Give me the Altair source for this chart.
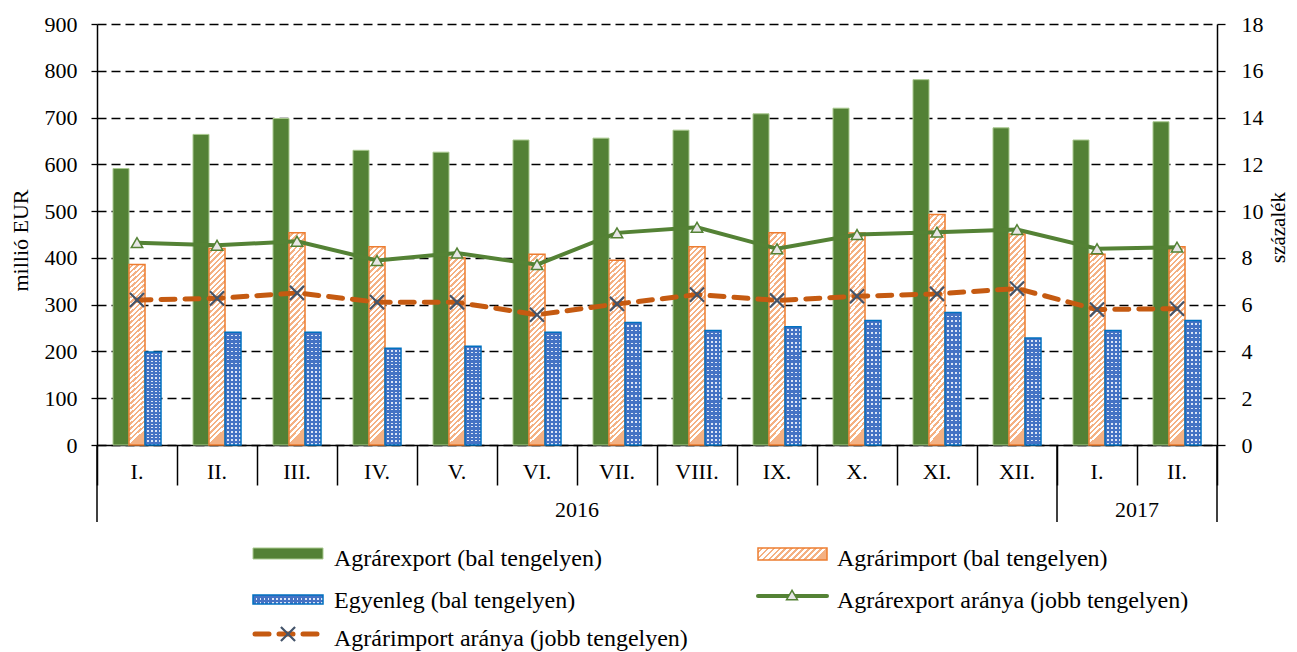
import altair as alt
import pandas as pd

# ---------------- data ----------------
months = ["I.", "II.", "III.", "IV.", "V.", "VI.", "VII.", "VIII.", "IX.", "X.", "XI.", "XII.", "I.", "II."]
years = ["2016"] * 12 + ["2017"] * 2
export_vals = [591, 664, 698, 630, 626, 652, 656, 673, 708, 720, 781, 678, 652, 691]
import_vals = [386, 420, 454, 424, 401, 408, 395, 424, 454, 453, 493, 451, 408, 424]
balance_vals = [199, 241, 241, 207, 211, 241, 262, 245, 253, 266, 283, 229, 245, 266]
export_share = [8.65, 8.54, 8.71, 7.89, 8.21, 7.71, 9.07, 9.31, 8.39, 9.00, 9.10, 9.21, 8.39, 8.46]
import_share = [6.20, 6.27, 6.50, 6.11, 6.10, 5.57, 6.03, 6.43, 6.18, 6.36, 6.46, 6.69, 5.79, 5.83]

series_names = {
    "exp": "Agrárexport (bal tengelyen)",
    "imp": "Agrárimport (bal tengelyen)",
    "bal": "Egyenleg (bal tengelyen)",
    "exps": "Agrárexport aránya (jobb tengelyen)",
    "imps": "Agrárimport aránya (jobb tengelyen)",
}

keys = [f"{y}-{m}" for y, m in zip(years, months)]
FONT = "Liberation Serif"

GREEN = "#538135"
GREEN_EDGE = "#A9C98F"
ORANGE_EDGE = "#ED7D31"
ORANGE_HATCH = "#F4B183"
BLUE = "#4472C4"
BLUE_EDGE = "#0070C0"
DOT_BG = "#DCE5F6"
LINE_GREEN = "#548235"
LINE_ORANGE = "#C55A11"
XMARK = "#44546A"

wide = pd.DataFrame({"key": keys, "month": months, "year": years,
                     "exp_share": export_share, "imp_share": import_share})
long = pd.DataFrame({
    "key": keys * 3,
    "series": ["exp"] * 14 + ["imp"] * 14 + ["bal"] * 14,
    "value": export_vals + import_vals + balance_vals,
})
one = pd.DataFrame({"a": [0]})


def stripes(n, x2, y2, c1, c2, frac):
    stops = []
    for i in range(n):
        a = i / n
        b = (i + frac) / n
        c = (i + 1) / n
        stops += [{"offset": a, "color": c1}, {"offset": b, "color": c1},
                  {"offset": b, "color": c2}, {"offset": c, "color": c2}]
    return {"gradient": "linear", "x1": 0, "y1": 0, "x2": x2, "y2": y2, "stops": stops}


CLEAR = "rgba(68,114,196,0)"
hatch_bar = stripes(36, 0.08, 1, "#FFFFFF", ORANGE_HATCH, 0.55)
rows_bar = stripes(28, 0, 1, BLUE, CLEAR, 0.62)
cols_bar = stripes(4, 1, 0, BLUE, CLEAR, 0.62)
hatch_leg = stripes(12, 1, 0.174, "#FFFFFF", ORANGE_HATCH, 0.55)
rows_leg = stripes(2, 0, 1, BLUE, CLEAR, 0.62)
cols_leg = stripes(17, 1, 0, BLUE, CLEAR, 0.62)

# ---------------- scales / axes ----------------
xscale = alt.Scale(domain=keys, paddingInner=0, paddingOuter=0)
xaxis = alt.Axis(labels=False, title=None, grid=False, tickBand="extent", tickSize=40,
                 tickColor="black", tickWidth=1.5, domainColor="black", domainWidth=1.5)


def X(**kw):
    return alt.X("key:N", scale=xscale, axis=xaxis, title=None, **kw)


xoff = alt.XOffset("series:N", scale=alt.Scale(domain=["exp", "imp", "bal"], paddingInner=0, paddingOuter=1))

lscale = alt.Scale(domain=[0, 900], nice=False)
laxis = alt.Axis(values=list(range(0, 901, 100)), grid=True, gridColor="black", gridDash=[9, 5],
                 gridWidth=1.6, tickSize=6, tickColor="black", tickWidth=1.3, domainColor="black",
                 domainWidth=1.5, labelPadding=14, labelFontSize=22, labelFont=FONT, labelColor="black",
                 titleFont=FONT, titleFontSize=22, titleFontWeight="normal", titleColor="black",
                 titleAngle=-90, titleX=-77, titleY=216, titleAlign="center", titleBaseline="middle")


def YL():
    return alt.Y("value:Q", scale=lscale, axis=laxis, title="millió EUR")


rscale = alt.Scale(domain=[0, 18], nice=False)
raxis = alt.Axis(orient="right", values=list(range(0, 19, 2)), grid=False, tickSize=8,
                 tickColor="black", tickWidth=1.3, domainColor="black", domainWidth=1.5,
                 labelPadding=16, labelFontSize=22, labelFont=FONT, labelColor="black",
                 titleFont=FONT, titleFontSize=21, titleFontWeight="normal", titleColor="black",
                 titleAngle=-90, titleX=61, titleY=203, titleAlign="center", titleBaseline="middle")


def YR(field):
    return alt.Y(field, scale=rscale, axis=raxis, title="százalék")


# ---------------- bars ----------------
bl = alt.Chart(long)
exp_bar = bl.transform_filter("datum.series == 'exp'").mark_bar(
    fill=GREEN, stroke=GREEN_EDGE, strokeWidth=1).encode(x=X(), xOffset=xoff, y=YL())
imp_bar = bl.transform_filter("datum.series == 'imp'").mark_bar(
    fill=hatch_bar, stroke=ORANGE_EDGE, strokeWidth=1.5).encode(x=X(), xOffset=xoff, y=YL())
bal_base = bl.transform_filter("datum.series == 'bal'").mark_bar(
    fill=DOT_BG).encode(x=X(), xOffset=xoff, y=YL())
bal_rows = bl.transform_filter("datum.series == 'bal'").mark_bar(
    fill=rows_bar).encode(x=X(), xOffset=xoff, y=YL())
bal_cols = bl.transform_filter("datum.series == 'bal'").mark_bar(
    fill=cols_bar, stroke=BLUE_EDGE, strokeWidth=1.5).encode(x=X(), xOffset=xoff, y=YL())

# ---------------- category labels ----------------
txt = dict(font=FONT, color="black", baseline="alphabetic")
month_text = alt.Chart(wide).mark_text(fontSize=22, align="center", **txt).encode(
    x=X(), y=alt.value(455), text="month:N")
year_df = pd.DataFrame({"key": ["2016-VI.", "2017-I."], "year": ["2016", "2017"]})
year_text = alt.Chart(year_df).mark_text(fontSize=22, align="center", **txt).encode(
    x=X(bandPosition=1), y=alt.value(493), text="year:N")
sep_start = alt.Chart(pd.DataFrame({"key": ["2016-I.", "2017-I."]})).mark_rule(
    color="black", strokeWidth=1.5).encode(x=X(bandPosition=0), y=alt.value(421), y2=alt.value(498))
sep_end = alt.Chart(pd.DataFrame({"key": ["2017-II."]})).mark_rule(
    color="black", strokeWidth=1.5).encode(x=X(bandPosition=1), y=alt.value(421), y2=alt.value(498))

# ---------------- legend ----------------
def lg():
    return alt.Chart(one)


def ltext(label, x, y):
    return lg().mark_text(fontSize=24, align="left", **txt).encode(
        x=alt.value(x), y=alt.value(y), text=alt.value(label))


def box(x1, x2, y1, y2, **mk):
    return lg().mark_rect(**mk).encode(x=alt.value(x1), x2=alt.value(x2), y=alt.value(y1), y2=alt.value(y2))


legend = [
    box(156, 226, 524, 535, fill=GREEN, stroke=GREEN_EDGE, strokeWidth=1),
    ltext(series_names["exp"], 237, 542),
    box(661, 730, 524, 536, fill=hatch_leg, stroke=ORANGE_EDGE, strokeWidth=1.5),
    ltext(series_names["imp"], 740, 542),
    box(156, 226, 571, 580, fill=DOT_BG),
    box(156, 226, 571, 580, fill=rows_leg),
    box(156, 226, 571, 580, fill=cols_leg, stroke=BLUE_EDGE, strokeWidth=1.5),
    ltext(series_names["bal"], 237, 584),
    lg().mark_rule(color=LINE_GREEN, strokeWidth=4, strokeCap="round").encode(
        x=alt.value(661), x2=alt.value(730), y=alt.value(572)),
    lg().mark_point(shape="triangle-up", filled=True, fill="#E7E6E6", stroke=LINE_GREEN,
                    strokeWidth=1.5, size=120, opacity=1).encode(x=alt.value(695), y=alt.value(571)),
    ltext(series_names["exps"], 740, 584),
    lg().mark_rule(color=LINE_ORANGE, strokeWidth=5, strokeDash=[14, 10], strokeCap="round").encode(
        x=alt.value(158), x2=alt.value(224), y=alt.value(610)),
    lg().mark_point(shape="M-1,-1L1,1M-1,1L1,-1", filled=False, stroke=XMARK, strokeWidth=2.2,
                    size=200, opacity=1).encode(x=alt.value(191), y=alt.value(610)),
    ltext(series_names["imps"], 237, 622),
]

left = alt.layer(exp_bar, imp_bar, bal_base, bal_rows, bal_cols,
                 month_text, year_text, sep_start, sep_end, *legend)

# ---------------- lines (right axis) ----------------
wl = alt.Chart(wide)
exp_line = wl.mark_line(color=LINE_GREEN, strokeWidth=4).encode(x=X(), y=YR("exp_share:Q"))
exp_pts = wl.mark_point(shape="triangle-up", filled=True, fill="#E7E6E6", stroke=LINE_GREEN,
                        strokeWidth=1.5, size=130, opacity=1).encode(x=X(), y=YR("exp_share:Q"))
imp_line = wl.mark_line(color=LINE_ORANGE, strokeWidth=5, strokeDash=[14, 10], strokeCap="round").encode(
    x=X(), y=YR("imp_share:Q"))
imp_pts = wl.mark_point(shape="M-1,-1L1,1M-1,1L1,-1", filled=False, stroke=XMARK, strokeWidth=2.2,
                        size=200, opacity=1).encode(x=X(), y=YR("imp_share:Q"))
right = alt.layer(exp_line, exp_pts, imp_line, imp_pts)

chart = alt.layer(left, right).resolve_scale(y="independent").properties(
    width=1120, height=421, autosize="none",
    padding={"left": 89, "top": 16, "right": 72, "bottom": 207},
    background="white",
).configure_view(stroke=None)

chart.save("out.html", embed_options={"renderer": "svg", "actions": False})
